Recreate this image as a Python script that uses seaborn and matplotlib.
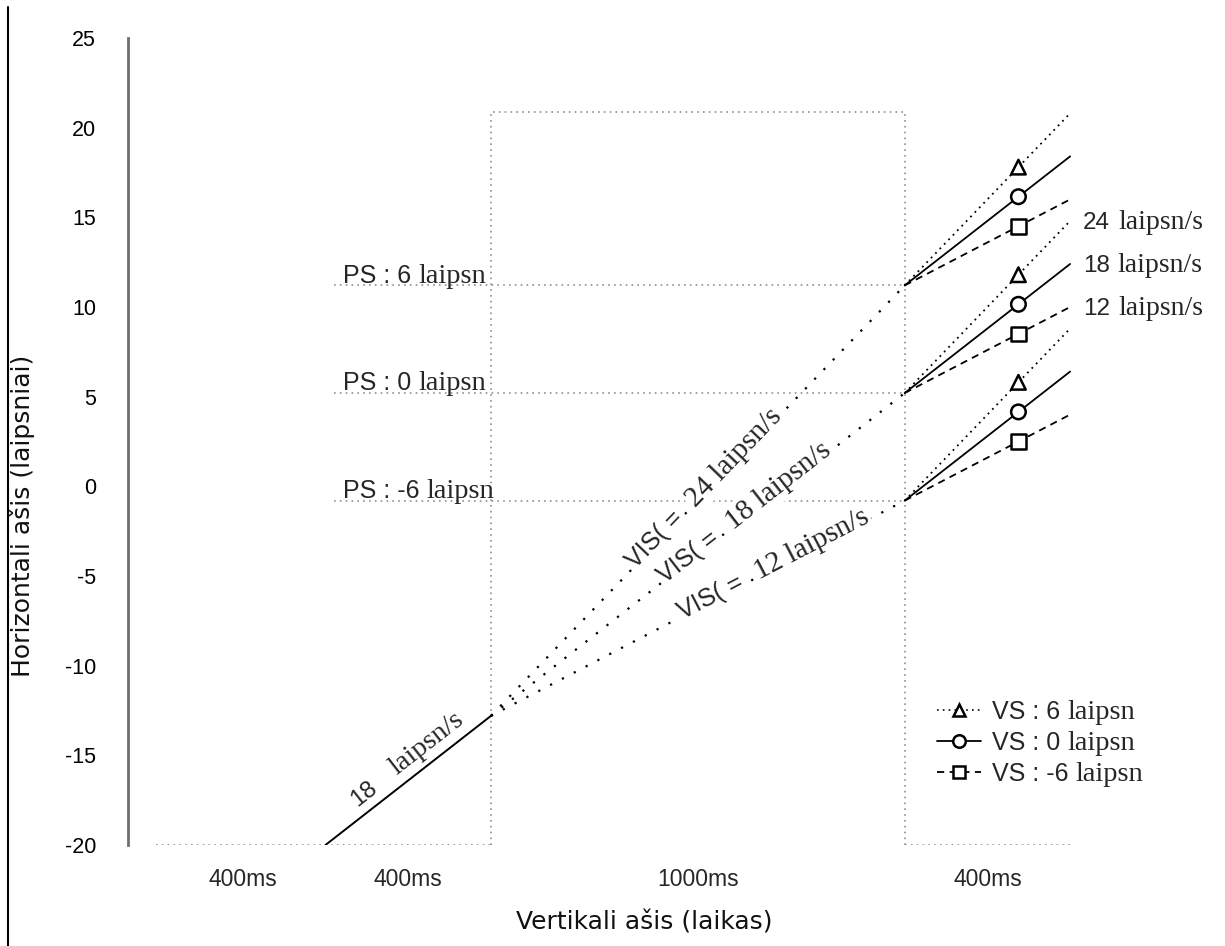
import numpy as np
import pandas as pd
import matplotlib
matplotlib.use("Agg")
import matplotlib.pyplot as plt
import seaborn as sns
from matplotlib.lines import Line2D
from matplotlib.font_manager import FontProperties
from matplotlib.transforms import IdentityTransform

# ---------------- data ----------------
segment_labels = ["400ms", "400ms", "1000ms", "400ms"]
segment_ms = [400, 400, 1000, 400]
start_deg = -20            # starting horizontal position
initial_speed = 18         # deg/s during 2nd segment
box_speeds = [24, 18, 12]  # deg/s inside the 1000 ms gap (VIS)
ps_values = ["6", "0", "-6"]
vs_speeds = [24, 18, 12]   # deg/s during last segment (VS 6, 0, -6)
vs_values = ["6", "0", "-6"]
marker_ms = 275            # marker position inside last segment
box_top = 20.9
yticks = [-20, -15, -10, -5, 0, 5, 10, 15, 20, 25]

# ---------------- style ----------------
sns.set_theme(style="white")
SANS = "Liberation Sans"
SERIF = "Liberation Serif"
plt.rcParams["font.family"] = [SANS, "DejaVu Sans"]

W, H = 1225, 946
fig = plt.figure(figsize=(W / 100, H / 100), dpi=100)
ax = fig.add_axes([128 / W, 101 / H, 1072 / W, 807 / H])
ax.set_xlim(-77.35, 2513.9)
ax.set_ylim(-20, 25)
renderer = fig.canvas.get_renderer()

t = np.concatenate([[0], np.cumsum(segment_ms)])  # 0,400,800,1800,2200
gray = "#8f8f8f"
gray_dot = (0, (1, 2.5))


def seg(xs, ys, **kw):
    sns.lineplot(x=xs, y=ys, sort=False, estimator=None, ax=ax, **kw)


# frame (gray dotted)
seg([-10, t[2]], [start_deg, start_deg], color=gray, lw=1.2, linestyle=gray_dot)
seg([t[2], t[2], t[3], t[3]], [start_deg, box_top, box_top, start_deg],
    color=gray, lw=1.2, linestyle=gray_dot)
seg([t[3], t[4]], [start_deg, start_deg], color=gray, lw=1.2, linestyle=gray_dot)

# initial movement
y_after = start_deg + initial_speed * segment_ms[1] / 1000
seg([t[1], t[2]], [start_deg, y_after], color="black", lw=1.4)

# box lines
ps_y = [y_after + s * segment_ms[2] / 1000 for s in box_speeds]
for yv in ps_y:
    seg([t[2], t[3]], [y_after, yv], color="black", lw=1.6, linestyle=(0, (1, 5)))
    seg([t[1] + 20, t[3]], [yv, yv], color=gray, lw=1.2, linestyle=gray_dot)

# final segment lines
vs_names = [f"VS : {v}" for v in vs_values]
rows = []
for g, y0 in enumerate(ps_y):
    for vl, vs in zip(vs_names, vs_speeds):
        rows.append(dict(t=t[3], y=y0, grp=g, vs=vl))
        rows.append(dict(t=t[4], y=y0 + vs * segment_ms[3] / 1000, grp=g, vs=vl))
df = pd.DataFrame(rows)
dash_map = {vs_names[0]: (1, 2.5), vs_names[1]: "", vs_names[2]: (4, 3)}
sns.lineplot(data=df, x="t", y="y", units="grp", style="vs", dashes=dash_map,
             estimator=None, color="black", lw=1.3, ax=ax, legend=False)

mk = []
for g, y0 in enumerate(ps_y):
    for vl, vs in zip(vs_names, vs_speeds):
        mk.append(dict(t=t[3] + marker_ms, y=y0 + vs * marker_ms / 1000, vs=vl))
mdf = pd.DataFrame(mk)
marker_map = {vs_names[0]: "^", vs_names[1]: "o", vs_names[2]: "s"}
sns.scatterplot(data=mdf, x="t", y="y", style="vs", markers=marker_map,
                facecolor="white", edgecolor="black", linewidth=1.8, s=110,
                ax=ax, legend=False, zorder=5)

# ---------------- axes styling ----------------
for s in ["top", "right", "bottom"]:
    ax.spines[s].set_visible(False)
ax.spines["left"].set_color("#6f6f6f")
ax.spines["left"].set_linewidth(2)
ax.set_xticks([])
ax.set_yticks(yticks)
ax.set_yticklabels([str(v) for v in yticks])
ax.tick_params(axis="y", direction="in", length=6, width=1.5, color="#6f6f6f",
               pad=23, labelsize=15.5, labelcolor="black")
ax.grid(False)

ax.set_ylabel("Horizontali ašis (laipsniai)", fontsize=18, family="DejaVu Sans",
              color="#111111")
ax.yaxis.set_label_coords(-0.0868, 0.4077)
ax.set_xlabel("Vertikali ašis (laikas)", fontsize=18, family="DejaVu Sans",
              color="#111111")
ax.xaxis.set_label_coords(0.482, -0.081)

# segment labels
for lab, a, b in zip(segment_labels, t[:-1], t[1:]):
    ax.text((a + b) / 2, -21.9, lab, ha="center", va="center", fontsize=16.5,
            clip_on=False)


def text_width(s, family, size):
    fp = FontProperties(family=family, size=size)
    w, h, d = renderer.get_text_width_height_descent(s, fp, ismath=False)
    return w


def mixed_text(x, y, parts, angle=0.0, align="left", perp=0.0, gaps=None,
               bbox=None):
    """Draw consecutive text parts in different fonts along one baseline."""
    widths = [text_width(s, f, z) for s, f, z in parts]
    if gaps is None:
        gaps = [6] * (len(parts) - 1)
    total = sum(widths) + sum(gaps)
    r = np.radians(angle)
    d = np.array([np.cos(r), np.sin(r)])
    n = np.array([-np.sin(r), np.cos(r)])
    p = ax.transData.transform((x, y)) + n * perp
    if align == "center":
        p = p - d * total / 2
    for i, ((s, f, z), w) in enumerate(zip(parts, widths)):
        ax.text(p[0], p[1], s, family=f, fontsize=z, rotation=angle,
                rotation_mode="anchor", ha="left", va="baseline",
                transform=IdentityTransform(), bbox=bbox, zorder=6)
        if i < len(gaps):
            p = p + d * (w + gaps[i])


def screen_angle(x0, y0, x1, y1):
    p = ax.transData.transform([(x0, y0), (x1, y1)])
    return np.degrees(np.arctan2(p[1, 1] - p[0, 1], p[1, 0] - p[0, 0]))


# PS labels
for v, yv in zip(ps_values, ps_y):
    mixed_text(442, yv + 0.15, [(f"PS : {v}", SANS, 18), ("laipsn", SERIF, 20.5)],
               gaps=[7])

# right speed labels (ends of middle group)
mid = ps_y[1]
for vs in vs_speeds:
    mixed_text(t[4] + 31, mid + vs * segment_ms[3] / 1000 - 0.45,
               [(str(vs), SANS, 17.5), ("laipsn/s", SERIF, 20)], gaps=[8])

# VIS labels along box lines
white = dict(boxstyle="square,pad=0.08", fc="white", ec="none")
for s, tc in zip(box_speeds, [1322, 1419, 1487]):
    ang = screen_angle(t[2], y_after, t[3], y_after + s)
    yc = y_after + s * (tc - t[2]) / 1000
    mixed_text(tc, yc, [("VIS( =", SANS, 18), (f"{s} laipsn/s", SERIF, 21)],
               angle=ang, align="center", perp=-3, gaps=[16], bbox=white)

# label of initial movement
ang0 = screen_angle(t[1], start_deg, t[2], y_after)
tc0 = 623
yc0 = start_deg + initial_speed * (tc0 - t[1]) / 1000
mixed_text(tc0, yc0, [(str(initial_speed), SANS, 17.5), ("laipsn/s", SERIF, 20.5)],
           angle=ang0, align="center", perp=11, gaps=[24])

# legend (sans part from legend, serif part appended)
handles = [
    Line2D([], [], color="black", lw=1.2, linestyle=(0, (1, 2.5)), marker="^",
           mfc="white", mec="black", mew=1.8, ms=9),
    Line2D([], [], color="black", lw=1.3, marker="o",
           mfc="white", mec="black", mew=1.8, ms=9),
    Line2D([], [], color="black", lw=1.3, linestyle=(0, (4, 3)), marker="s",
           mfc="white", mec="black", mew=1.8, ms=9),
]
LEG_FS = 18
leg = fig.legend(handles, vs_names, loc="upper left",
                 bbox_to_anchor=(937 / W, 1 - 700 / H),
                 bbox_transform=fig.transFigure, frameon=False,
                 prop=FontProperties(family=SANS, size=LEG_FS),
                 handlelength=1.75, handletextpad=0.45, labelspacing=0.28,
                 borderpad=0, borderaxespad=0)
fig.canvas.draw()
_, _, d_sans = renderer.get_text_width_height_descent(
    "lp", FontProperties(family=SANS, size=LEG_FS), ismath=False)
for txt in leg.get_texts():
    bb = txt.get_window_extent(renderer)
    fig.text(bb.x1 + 7, bb.y0 + d_sans, "laipsn", family=SERIF, fontsize=20.5,
             ha="left", va="baseline", transform=IdentityTransform())

# page border line on the left
fig.add_artist(Line2D([8 / W, 8 / W], [0, 1 - 7 / H], color="black", lw=1.5,
                      transform=fig.transFigure))

fig.savefig("out.png", dpi=100, facecolor="white")
